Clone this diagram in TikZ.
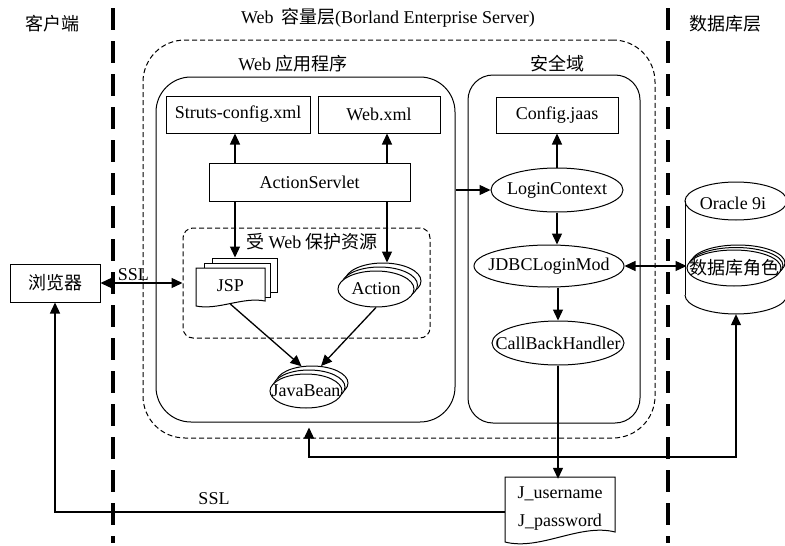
\documentclass[tikz,border=0pt]{standalone}
\usepackage{fontspec}
\setmainfont{Liberation Serif}
\newfontfamily\cjk{Noto Sans CJK SC}
\usetikzlibrary{arrows.meta,shapes.geometric,calc}
\begin{document}
\begin{tikzpicture}[x=1pt,y=-1pt,
  font=\fontsize{18}{21}\selectfont,
  tip/.tip={Triangle[length=11pt,width=10pt]},
  arr/.style={line width=1.3pt,-tip},
  darr/.style={line width=1.3pt,tip-tip},
  box/.style={draw, line width=1pt, inner sep=0pt, fill=white},
  ell/.style={ellipse, draw, line width=1pt, fill=white, inner sep=0pt},
  region/.style={draw, line width=1pt, inner sep=0pt},
  dsh/.style={dash pattern=on 5pt off 3pt},
  sep/.style={line width=3.2pt, dash pattern=on 22pt off 11pt},
]
\fill[white] (0,0) rectangle (785,546);
\useasboundingbox (0,0) rectangle (785,546);
\clip (0,0) rectangle (785,546);

% layer separators
\draw[sep] (113,8) -- (113,543);
\draw[sep] (668,8) -- (668,543);

% titles
\node (tclient) at (52,24) {\cjk 客户端};
\node (tweb) at (388,18) {Web\, {\cjk 容量层}(Borland Enterprise Server)};
\node (tdb) at (725,24) {\cjk 数据库层};

% containers
\node[region, dsh, rounded corners=42, minimum width=512, minimum height=398] (wc) at (399,239) {};
\node[region, rounded corners=35, minimum width=299, minimum height=345] (webapp) at (305.5,249.5) {};
\node (twebapp) at (293,64) {Web {\cjk 应用程序}};
\node[region, rounded corners=25, minimum width=172, minimum height=348] (sec) at (554,249) {};
\node (tsec) at (557,64) {\cjk 安全域};
\node[region, dsh, rounded corners=10, minimum width=247, minimum height=110] (prot) at (306.5,283) {};
\node (tprot) at (312,242) {{\cjk 受} Web {\cjk 保护资源}};

% boxes
\node[box, minimum width=144, minimum height=37] (struts) at (238,114.5) {Struts-config.xml};
\node[box, minimum width=122, minimum height=37] (webxml) at (379,114.5) {Web.xml};
\node[box, minimum width=201, minimum height=38] (as) at (309.5,182) {ActionServlet};
\node[box, minimum width=122, minimum height=36] (config) at (557,115) {Config.jaas};
\node[box, minimum width=90, minimum height=38] (browser) at (55,283) {\cjk 浏览器};

% JSP multi-document
\node[box, minimum width=65, minimum height=34] (jspB) at (244.5,275) {};
\node[box, minimum width=66, minimum height=34] (jspM) at (237,280) {};
\draw[line width=1pt, fill=white] (196,268) -- (265,268) -- (265,301)
  .. controls (243,296.5) and (218,310.5) .. (196,306) -- cycle;
\node[inner sep=0pt, minimum width=69, minimum height=36] (jsp) at (230.5,286) {JSP};

% Action multi-ellipse
\node[ell, minimum width=76, minimum height=36] (actB) at (383,281) {};
\node[ell, minimum width=76, minimum height=36] (actM) at (379.5,285) {};
\node[ell, minimum width=76, minimum height=36] (action) at (376,289) {\makebox[0pt]{Action}};

% JavaBean multi-ellipse
\node[ell, minimum width=72, minimum height=34] (jbB) at (312,383) {};
\node[ell, minimum width=72, minimum height=34] (jbM) at (309,387) {};
\node[ell, minimum width=72, minimum height=34] (jb) at (306,391) {\makebox[0pt]{JavaBean}};

% security ellipses
\node[ell, minimum width=132, minimum height=44] (lc) at (557,190) {\makebox[0pt]{LoginContext}};
\node[ell, minimum width=150, minimum height=42] (jdbc) at (549,266) {\makebox[0pt]{JDBCLoginMod}};
\node[ell, minimum width=132, minimum height=44] (cbh) at (558,343) {\makebox[0pt]{CallBackHandler}};

% J doc
\draw[line width=1pt, fill=white] (505,477) -- (615,477) -- (615,532)
  .. controls (580,523) and (540,551) .. (505,542) -- cycle;
\node[inner sep=0pt, minimum width=110, minimum height=60, align=center,
  font=\fontsize{18}{28}\selectfont] (jdoc) at (560,509) {J\_username\\J\_password};

% Oracle cylinder
\node[inner sep=0pt, minimum width=102, minimum height=132] (oracle) at (736,248) {};
\draw[line width=1pt] (736,201) ellipse [x radius=51, y radius=19];
\draw[line width=1pt] (685,201) -- (685,295);
\draw[line width=1pt] (787,201) -- (787,295);
\begin{scope}
  \clip (680,295) rectangle (790,320);
  \draw[line width=1pt] (736,295) ellipse [x radius=51, y radius=19];
\end{scope}
\node (toracle) at (733,203) {Oracle 9i};
\node[ell, minimum width=94, minimum height=36] (drB) at (738,263) {};
\node[ell, minimum width=94, minimum height=36] (drM) at (736,265.5) {};
\node[ell, minimum width=94, minimum height=36] (dbrole) at (734,268) {\makebox[0pt]{\cjk 数据库角色}};

% connectors
\coordinate (c1) at (235,0);
\coordinate (c2) at (387,0);
\coordinate (c4) at (309,0);
\draw[arr] (as.north -| c1) -- (struts.south -| c1);
\draw[arr] (as.north -| c2) -- (webxml.south -| c2);
\draw[arr] (as.south -| c1) -- (jspB.north -| c1);
\draw[arr] (as.south -| c2) -- (actB.north -| c2);
\draw[arr] (jsp.south) -- (jbB.122);
\draw[arr] (action.south) -- (jbB.62);
\draw[arr] (webapp.east |- lc.west) -- (lc.west);
\draw[arr] (lc.north) -- (config.south);
\draw[arr] (lc.south) -- (jdbc.north -| lc.south);
\draw[arr] (jdbc.south -| cbh.north) -- (cbh.north);
\draw[arr] (cbh.south) -- (jdoc.north -| cbh.south);
\draw[darr] (jdbc.east) -- (dbrole.west |- jdbc.east);
\draw[darr] (browser.east) -- node[above=-2pt, pos=0.4] (tssl1) {SSL} (browser.east -| prot.west);
\coordinate (jl) at (505,512);
\draw[arr] (jl) -| (browser.south);
\node (tssl2) at (214,499) {SSL};
\draw[darr] (oracle.south) -- (oracle.south |- 0,457) -| ($(webapp.south -| c4)+(0,5)$);
\end{tikzpicture}
\end{document}
